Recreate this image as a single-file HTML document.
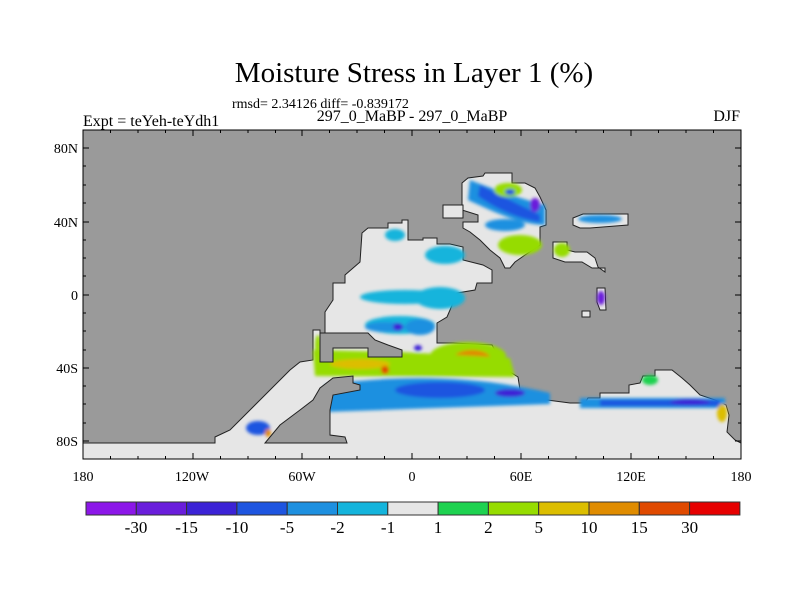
<!DOCTYPE html>
<html><head><meta charset="utf-8"><style>
body{margin:0;background:#fff;width:800px;height:600px;overflow:hidden}
svg{display:block}
text{font-family:"Liberation Serif",serif;fill:#000}
</style></head><body>
<svg width="800" height="600" viewBox="0 0 800 600" xmlns="http://www.w3.org/2000/svg">
<text x="414" y="82" font-size="29" text-anchor="middle">Moisture Stress in Layer 1 (%)</text>
<text x="232" y="108" font-size="14">rmsd= 2.34126 diff= -0.839172</text>
<text x="83" y="126" font-size="16">Expt = teYeh-teYdh1</text>
<text x="412" y="121" font-size="16" text-anchor="middle">297_0_MaBP - 297_0_MaBP</text>
<text x="740" y="121" font-size="16" text-anchor="end">DJF</text>
<defs><clipPath id="c"><rect x="83" y="130" width="658" height="329"/></clipPath>
<filter id="b"><feGaussianBlur stdDeviation="1.5"/></filter></defs>
<g clip-path="url(#c)">
<rect x="83" y="130" width="658" height="329" fill="#9a9a9a"/>
<g fill="#e6e6e6" stroke="#222" stroke-width="1">
<polygon points="362,233 368,228 388,228 388,223 402,223 402,220 408,220 408,240 423,240 423,238 437,238 437,244 450,244 463,247 463,260 483,265 492,270 492,283 477,283 475,290 457,293 450,310 447,317 437,323 437,343 453,343 492,345 500,360 510,372 518,377 520,390 527,393 547,400 570,403 585,403 588,398 600,398 600,393 629,393 629,385 640,383 643,376 655,376 655,370 672,370 682,378 690,385 700,395 715,400 726,405 729,415 727,432 735,440 741,443 741,460 82,460 82,443 215,443 215,437 230,430 240,420 250,410 260,400 270,390 280,380 290,370 300,362 313,360 313,330 320,330 320,333 325,333 325,312 333,300 333,283 345,283 345,275 360,262"/>
<polygon points="462,183 468,178 483,176 485,173 512,173 512,183 525,183 535,188 540,197 546,210 546,225 540,227 540,245 525,255 515,262 510,268 505,268 500,258 490,250 480,240 470,232 463,228 463,222 478,222 478,215 462,210"/>
<rect x="443" y="205" width="20" height="13"/>
<polygon points="553,242 567,242 567,250 575,252 587,252 595,258 598,267 605,272 605,268 592,268 582,262 565,262 553,258"/>
<polygon points="573,218 583,214 628,214 628,225 590,228 580,228 573,225"/>
<polygon points="597,288 605,288 606,310 600,310 597,302"/>
<rect x="582" y="311" width="8" height="6"/>
</g>
<g filter="url(#b)">
<path d="M470,180 C495,190 525,200 545,205 L545,225 C520,225 490,210 468,200 Z" fill="#1e90e0"/>
<path d="M480,185 C500,195 520,205 540,215 L540,222 C515,218 495,208 478,196 Z" fill="#1e55e0"/>
<ellipse cx="508" cy="190" rx="14" ry="7" fill="#96dc00"/>
<ellipse cx="510" cy="192" rx="5" ry="3" fill="#1e55e0"/>
<ellipse cx="535" cy="205" rx="5" ry="7" fill="#6a1edb"/>
<ellipse cx="520" cy="245" rx="22" ry="10" fill="#96dc00"/>
<ellipse cx="505" cy="225" rx="20" ry="6" fill="#1e90e0"/>
<ellipse cx="600" cy="219" rx="22" ry="4" fill="#1e90e0"/>
<ellipse cx="562" cy="250" rx="8" ry="7" fill="#96dc00"/>
<ellipse cx="601" cy="298" rx="4" ry="7" fill="#6a1edb"/>
<ellipse cx="395" cy="235" rx="10" ry="6" fill="#14b4dc"/>
<ellipse cx="445" cy="255" rx="20" ry="9" fill="#14b4dc"/>
<ellipse cx="405" cy="297" rx="45" ry="7" fill="#14b4dc"/>
<ellipse cx="440" cy="298" rx="25" ry="11" fill="#14b4dc"/>
<ellipse cx="400" cy="325" rx="35" ry="9" fill="#14b4dc"/>
<ellipse cx="385" cy="327" rx="20" ry="5" fill="#1e90e0"/>
<ellipse cx="420" cy="327" rx="15" ry="8" fill="#1e90e0"/>
<ellipse cx="398" cy="327" rx="5" ry="4" fill="#3c23d6"/>
<ellipse cx="418" cy="348" rx="4" ry="3" fill="#3c23d6"/>
<ellipse cx="468" cy="356" rx="38" ry="14" fill="#96dc00"/>
<ellipse cx="472" cy="358" rx="18" ry="8" fill="#e08c00"/>
<ellipse cx="467" cy="360" rx="7" ry="4" fill="#e04a00"/>
<path d="M313,350 L400,352 L510,358 L515,377 L315,376 Z" fill="#96dc00"/>
<ellipse cx="360" cy="364" rx="30" ry="5" fill="#dcbe00"/>
<ellipse cx="385" cy="370" rx="4" ry="4" fill="#e04a00"/>
<path d="M325,385 C400,374 480,376 550,393 L550,404 L325,412 Z" fill="#1e90e0"/>
<ellipse cx="440" cy="390" rx="45" ry="8" fill="#1e55e0"/>
<ellipse cx="510" cy="393" rx="15" ry="4" fill="#3c23d6"/>
<path d="M580,398 L725,398 L725,408 L580,408 Z" fill="#1e90e0"/>
<path d="M600,400 L720,400 L720,406 L600,406 Z" fill="#1e55e0"/>
<ellipse cx="690" cy="402" rx="20" ry="3" fill="#3c23d6"/>
<ellipse cx="650" cy="380" rx="8" ry="5" fill="#1ed250"/>
<ellipse cx="722" cy="413" rx="5" ry="9" fill="#dcbe00"/>
<ellipse cx="258" cy="428" rx="12" ry="7" fill="#1e55e0"/>
<ellipse cx="268" cy="433" rx="3" ry="4" fill="#e08c00"/>
<ellipse cx="318" cy="345" rx="3" ry="10" fill="#96dc00"/>
</g>
<g fill="#9a9a9a" stroke="#222" stroke-width="1">
<polygon points="320,333 368,333 375,340 388,345 402,350 402,357 368,357 368,348 333,348 333,362 320,362"/>
<polygon points="333,378 353,376 353,383 360,385 360,390 333,395 330,410 330,435 345,437 347,443 265,443 280,425 300,410 313,400 320,388"/>
</g>
</g>
<rect x="83" y="130" width="658" height="329" fill="none" stroke="#000" stroke-width="1"/>
<g stroke="#000" stroke-width="1">
<path d="M83,130v6M110.5,130v3M138,130v3M165.5,130v3M193,130v6M220.5,130v3M248,130v3M275.5,130v3M302,130v6M329.5,130v3M357,130v3M384.5,130v3M412,130v6M439.5,130v3M467,130v3M494.5,130v3M521,130v6M548.5,130v3M576,130v3M603.5,130v3M631,130v6M658.5,130v3M686,130v3M713.5,130v3M741,130v6"/>
<path d="M83,459v-6M110.5,459v-3M138,459v-3M165.5,459v-3M193,459v-6M220.5,459v-3M248,459v-3M275.5,459v-3M302,459v-6M329.5,459v-3M357,459v-3M384.5,459v-3M412,459v-6M439.5,459v-3M467,459v-3M494.5,459v-3M521,459v-6M548.5,459v-3M576,459v-3M603.5,459v-3M631,459v-6M658.5,459v-3M686,459v-3M713.5,459v-3M741,459v-6"/>
<path d="M83,148h6M83,166h3M83,185h3M83,203h3M83,222h6M83,240h3M83,258h3M83,276h3M83,295h6M83,313h3M83,331h3M83,350h3M83,368h6M83,386h3M83,404h3M83,423h3M83,441h6"/>
<path d="M741,148h-6M741,166h-3M741,185h-3M741,203h-3M741,222h-6M741,240h-3M741,258h-3M741,276h-3M741,295h-6M741,313h-3M741,331h-3M741,350h-3M741,368h-6M741,386h-3M741,404h-3M741,423h-3M741,441h-6"/>
</g>
<g font-size="14">
<text x="78" y="153" text-anchor="end">80N</text>
<text x="78" y="227" text-anchor="end">40N</text>
<text x="78" y="300" text-anchor="end">0</text>
<text x="78" y="373" text-anchor="end">40S</text>
<text x="78" y="446" text-anchor="end">80S</text>
<g text-anchor="middle">
<text x="83" y="481">180</text><text x="192" y="481">120W</text><text x="302" y="481">60W</text><text x="412" y="481">0</text><text x="521" y="481">60E</text><text x="631" y="481">120E</text><text x="741" y="481">180</text>
</g></g>
<g stroke="#333" stroke-width="1">
<rect x="86" y="502" width="50.3" height="13" fill="#8c17e8"/>
<rect x="136.3" y="502" width="50.3" height="13" fill="#6a1edb"/>
<rect x="186.6" y="502" width="50.3" height="13" fill="#3c23d6"/>
<rect x="236.9" y="502" width="50.3" height="13" fill="#1e55e0"/>
<rect x="287.2" y="502" width="50.3" height="13" fill="#1e90e0"/>
<rect x="337.5" y="502" width="50.3" height="13" fill="#14b4dc"/>
<rect x="387.8" y="502" width="50.3" height="13" fill="#e6e6e6"/>
<rect x="438.1" y="502" width="50.3" height="13" fill="#1ed250"/>
<rect x="488.4" y="502" width="50.3" height="13" fill="#96dc00"/>
<rect x="538.7" y="502" width="50.3" height="13" fill="#dcbe00"/>
<rect x="589" y="502" width="50.3" height="13" fill="#e08c00"/>
<rect x="639.3" y="502" width="50.3" height="13" fill="#e04a00"/>
<rect x="689.6" y="502" width="50.3" height="13" fill="#e60000"/>
</g>
<g font-size="17" text-anchor="middle">
<text x="136" y="533">-30</text><text x="186.6" y="533">-15</text><text x="237" y="533">-10</text><text x="287" y="533">-5</text><text x="337.5" y="533">-2</text><text x="388" y="533">-1</text><text x="438" y="533">1</text><text x="488.4" y="533">2</text><text x="538.7" y="533">5</text><text x="589" y="533">10</text><text x="639.3" y="533">15</text><text x="689.6" y="533">30</text>
</g>
</svg>
</body></html>
